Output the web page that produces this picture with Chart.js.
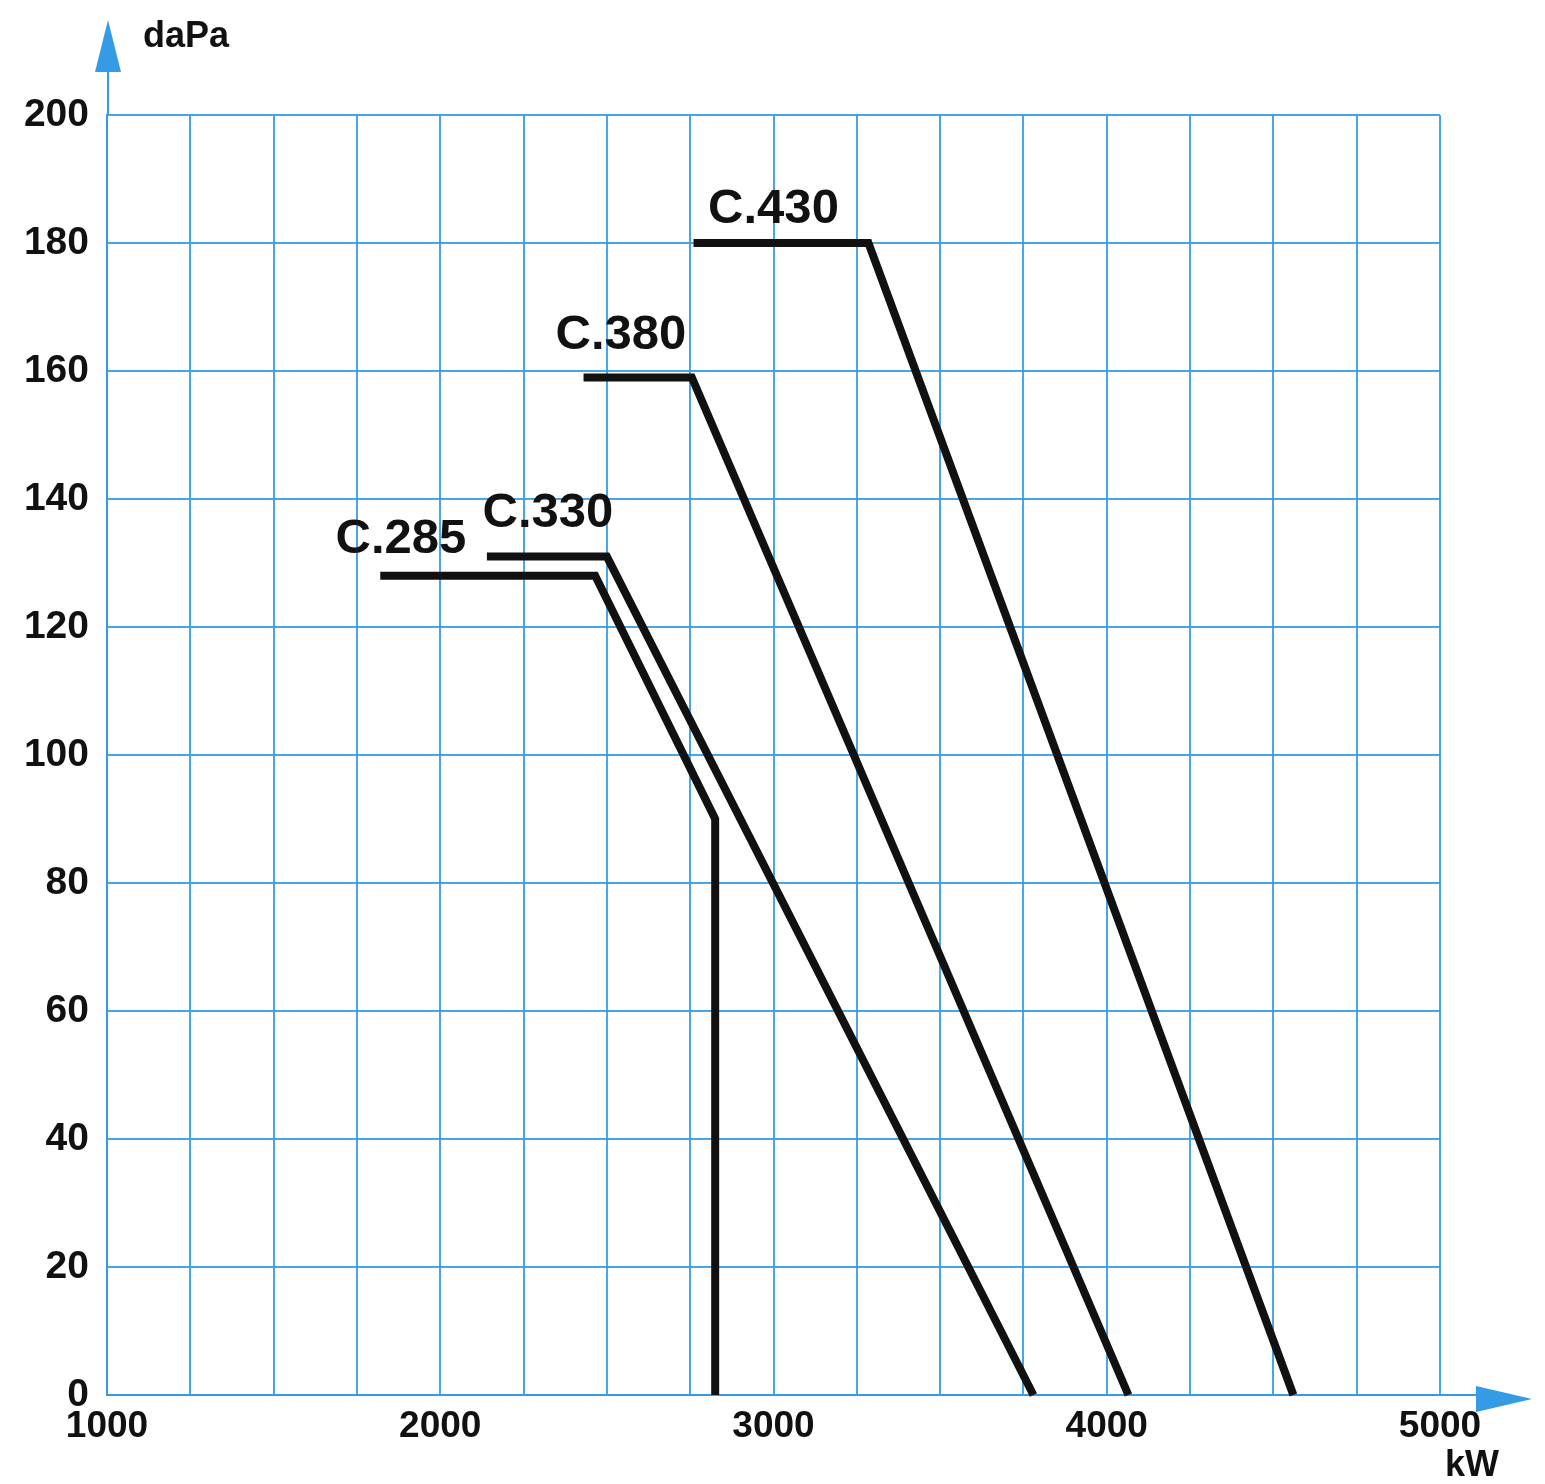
<!DOCTYPE html>
<html>
<head>
<meta charset="utf-8">
<script src="https://cdn.jsdelivr.net/npm/chart.js@4/dist/chart.umd.min.js"></script>
<style>
  html, body { margin: 0; padding: 0; background: #ffffff; }
  #wrap { position: relative; width: 1545px; height: 1484px; }
</style>
</head>
<body>
<div id="wrap"><canvas id="c"></canvas></div>
<script>
// ---- data ----
const seriesNames = ['C.285', 'C.330', 'C.380', 'C.430'];
const c285X = [1820, 2465, 2825, 2825];
const c285Y = [128, 128, 90, 0];
const c330X = [2140, 2500, 3780];
const c330Y = [131, 131, 0];
const c380X = [2430, 2755, 4065];
const c380Y = [159, 159, 0];
const c430X = [2760, 3285, 4560];
const c430Y = [180, 180, 0];
const xTickLabels = [1000, 2000, 3000, 4000, 5000];
const yTickLabels = [0, 20, 40, 60, 80, 100, 120, 140, 160, 180, 200];
const xUnit = 'kW';
const yUnit = 'daPa';

const toPoints = (xs, ys) => xs.map((x, i) => ({ x: x, y: ys[i] }));
const seriesX = [c285X, c330X, c380X, c430X];
const seriesY = [c285Y, c330Y, c380Y, c430Y];

const BLUE = 'rgb(52,155,228)';
const GRID = 'rgba(52,155,228,0.9)';

// curve label placement (data coordinates of text centre)
const labelPlacement = [
  { x: 1882, y: 133.6 },
  { x: 2323, y: 137.8 },
  { x: 2542, y: 165.6 },
  { x: 3000, y: 185.2 }
];

const decorPlugin = {
  id: 'decor',
  afterDraw(chart) {
    const ctx = chart.ctx;
    const xs = chart.scales.x, ys = chart.scales.y;
    const area = chart.chartArea;
    ctx.save();
    // curve labels
    ctx.fillStyle = '#111';
    ctx.font = 'bold 49px "Liberation Sans", Arial, sans-serif';
    ctx.textAlign = 'center';
    ctx.textBaseline = 'middle';
    seriesNames.forEach((n, i) => {
      const p = labelPlacement[i];
      ctx.fillText(n, xs.getPixelForValue(p.x), ys.getPixelForValue(p.y));
    });
    // y arrow
    const ax = area.left + 1;
    ctx.strokeStyle = BLUE;
    ctx.lineWidth = 2;
    ctx.beginPath();
    ctx.moveTo(ax, area.top);
    ctx.lineTo(ax, 70);
    ctx.stroke();
    ctx.fillStyle = BLUE;
    ctx.beginPath();
    ctx.moveTo(ax, 20);
    ctx.lineTo(ax - 13, 72);
    ctx.lineTo(ax + 13, 72);
    ctx.closePath();
    ctx.fill();
    // x arrow
    const ay = area.bottom;
    ctx.beginPath();
    ctx.moveTo(area.right, ay);
    ctx.lineTo(1480, ay);
    ctx.stroke();
    ctx.beginPath();
    ctx.moveTo(1532, ay + 4);
    ctx.lineTo(1476, ay - 9);
    ctx.lineTo(1476, ay + 17);
    ctx.closePath();
    ctx.fill();
    // unit labels
    ctx.fillStyle = '#111';
    ctx.font = 'bold 36px "Liberation Sans", Arial, sans-serif';
    ctx.textAlign = 'left';
    ctx.textBaseline = 'middle';
    ctx.fillText(yUnit, 143, 37);
    ctx.textAlign = 'center';
    ctx.fillText(xUnit, 1472, 1466);
    ctx.restore();
  }
};

new Chart(document.getElementById('c'), {
  type: 'scatter',
  data: {
    datasets: seriesNames.map((n, i) => ({
      label: n,
      data: toPoints(seriesX[i], seriesY[i]),
      showLine: true,
      borderColor: '#111111',
      backgroundColor: '#111111',
      borderWidth: 8,
      pointRadius: 0,
      pointHoverRadius: 0,
      tension: 0,
      borderJoinStyle: 'miter',
      borderCapStyle: 'butt',
      clip: false
    }))
  },
  options: {
    responsive: true,
    maintainAspectRatio: false,
    animation: false,
    devicePixelRatio: 1,
    layout: { padding: { left: 0, top: 115, right: 105, bottom: 0 } },
    plugins: {
      legend: { display: false },
      tooltip: { enabled: false },
      title: { display: false }
    },
    scales: {
      x: {
        type: 'linear',
        min: xTickLabels[0],
        max: xTickLabels[xTickLabels.length - 1],
        afterFit(scale) { scale.height = 89; },
        afterBuildTicks(scale) {
          const t = [];
          for (let v = xTickLabels[0]; v <= xTickLabels[xTickLabels.length - 1]; v += 250) t.push({ value: v });
          scale.ticks = t;
        },
        ticks: {
          autoSkip: false,
          maxRotation: 0,
          padding: 10,
          color: '#111',
          font: { family: '"Liberation Sans", Arial, sans-serif', size: 37, weight: 'bold' },
          callback: (v) => xTickLabels.includes(v) ? String(v) : ''
        },
        grid: { color: GRID, lineWidth: 2, drawTicks: false },
        border: { color: BLUE, width: 2 }
      },
      y: {
        type: 'linear',
        min: yTickLabels[0],
        max: yTickLabels[yTickLabels.length - 1],
        afterFit(scale) { scale.width = 107; },
        afterBuildTicks(scale) {
          scale.ticks = yTickLabels.map(v => ({ value: v }));
        },
        ticks: {
          autoSkip: false,
          padding: 18,
          color: '#111',
          font: { family: '"Liberation Sans", Arial, sans-serif', size: 39, weight: 'bold' },
          callback: (v) => String(v)
        },
        grid: { color: GRID, lineWidth: 2, drawTicks: false },
        border: { color: BLUE, width: 2 }
      }
    }
  },
  plugins: [decorPlugin]
});
</script>
</body>
</html>
